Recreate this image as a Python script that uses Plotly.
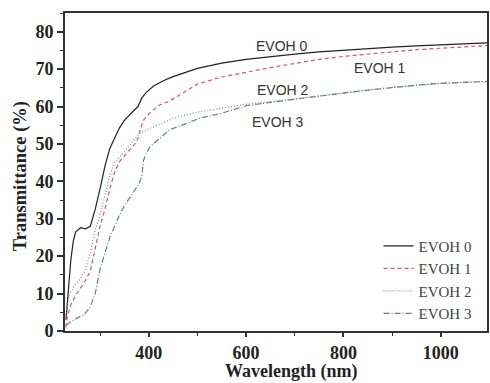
import plotly.graph_objects as go

# ---- data ----
wl0 = [230, 235, 240, 245, 250, 260, 270, 280, 290, 300, 310, 320, 330, 340, 350, 360, 370, 378, 382, 386, 395, 410, 430, 450, 500, 550, 600, 650, 700, 750, 800, 850, 900, 950, 1000, 1050, 1095]
t0 = [3, 12, 19, 24, 26.5, 27.6, 27.3, 28, 32.5, 38, 44, 48.8, 51.6, 54.3, 56.3, 57.8, 59, 60, 61, 62.3, 63.8, 65.5, 66.9, 68, 70.2, 71.6, 72.6, 73.4, 74, 74.6, 75.1, 75.5, 75.9, 76.2, 76.5, 76.8, 77]

wl1 = [230, 233, 240, 250, 260, 270, 280, 290, 300, 310, 320, 330, 340, 350, 360, 370, 378, 383, 390, 400, 420, 440, 460, 500, 550, 600, 650, 700, 750, 800, 850, 900, 950, 1000, 1050, 1095]
t1 = [1, 4, 7, 9.5, 11.5, 13.5, 16, 22, 28, 32.5, 38, 42.5, 45.3, 46.8, 48.2, 49.8, 51.5, 54, 56.5, 58, 60.3, 61.3, 62.8, 66, 67.9, 69.2, 70.4, 71.5, 72.6, 73.4, 74.1, 74.6, 75.2, 75.6, 76, 76.3]

wl2 = [230, 235, 240, 250, 260, 270, 280, 290, 300, 310, 320, 330, 340, 350, 360, 370, 382, 400, 430, 450, 500, 550, 600, 650, 700, 750, 800, 850, 900, 950, 1000, 1050, 1095]
t2 = [4, 8.5, 10.5, 12.5, 14, 16.5, 21, 27, 31, 36.5, 41.5, 45.2, 46.6, 47.8, 49.5, 51.2, 52.9, 54, 55.6, 56.8, 58.5, 59.6, 60.6, 61.3, 62.1, 62.9, 63.6, 64.4, 65.1, 65.7, 66.2, 66.5, 66.7]

wl3 = [230, 240, 250, 260, 270, 280, 290, 300, 310, 320, 330, 340, 350, 360, 370, 380, 386, 389, 395, 403, 420, 443, 470, 505, 550, 600, 650, 700, 750, 800, 850, 900, 950, 1000, 1050, 1095]
t3 = [1.5, 2.5, 3.2, 4, 4.8, 6.5, 10, 16.5, 21, 25, 28, 31, 33.5, 35.5, 37.5, 39.3, 41.5, 45.5, 47.5, 49.3, 51.2, 53.8, 55.1, 56.9, 58.2, 60.2, 61.1, 62, 62.8, 63.6, 64.4, 65.1, 65.7, 66.2, 66.5, 66.7]

names = ["EVOH 0", "EVOH 1", "EVOH 2", "EVOH 3"]
label_x = [673, 875, 676, 666]
label_y = [76.1, 70.4, 64.5, 55.9]

colors = ["#222222", "#d9546a", "#7f8f82", "#6f7a88"]
dashes = ["solid", "4px,3px", "1px,2px", "6px,2px,1px,2px"]

fig = go.Figure()
for wl, t, n, c, d in zip([wl0, wl1, wl2, wl3], [t0, t1, t2, t3], names, colors, dashes):
    fig.add_trace(go.Scatter(x=wl, y=t, mode="lines", name=n,
                             line=dict(color=c, width=1.2, dash=d)))

for n, x, y in zip(names, label_x, label_y):
    fig.add_annotation(x=x, y=y, text=n, showarrow=False,
                       font=dict(family="Liberation Sans, Arial", size=14, color="#333333"))

serif = "Liberation Serif, Times New Roman, serif"
axis_common = dict(showline=True, linecolor="#333333", linewidth=1.8, mirror=True,
                   ticks="outside", tickwidth=1.5, tickcolor="#333333",
                   showgrid=False, zeroline=False,
                   tickfont=dict(family=serif, size=18, color="#222222", weight="bold"))

fig.update_layout(
    width=490, height=383,
    margin=dict(l=65, r=1, t=13, b=52),
    paper_bgcolor="white", plot_bgcolor="white",
    xaxis=dict(range=[228, 1095], dtick=200, tick0=0, ticklen=4,
               minor=dict(dtick=100, ticks="outside", ticklen=3, tickcolor="#333333", tickwidth=1.2),
               **axis_common),
    yaxis=dict(range=[0, 85], dtick=10, tick0=0, ticklen=6,
               minor=dict(dtick=5, ticks="outside", ticklen=3, tickcolor="#333333", tickwidth=1.2),
               **axis_common),
    legend=dict(x=0.743, y=0.319, xanchor="left", yanchor="top",
                bgcolor="rgba(0,0,0,0)", borderwidth=0,
                font=dict(family=serif, size=15, color="#444444"),
                tracegroupgap=0),
    showlegend=True,
)

fig.add_annotation(xref="paper", yref="paper", x=(293 - 65) / 424, y=(331 - 371) / 318,
                   text="Wavelength (nm)", showarrow=False, yanchor="middle",
                   font=dict(family=serif, size=18, color="#222222", weight="bold"))
fig.add_annotation(xref="paper", yref="paper", x=(20 - 65) / 424, y=(331 - 176) / 318,
                   text="Transmittance (%)", showarrow=False, textangle=-90,
                   xanchor="center", yanchor="middle",
                   font=dict(family=serif, size=18.5, color="#222222", weight="bold"))

fig.write_html("out.html")
